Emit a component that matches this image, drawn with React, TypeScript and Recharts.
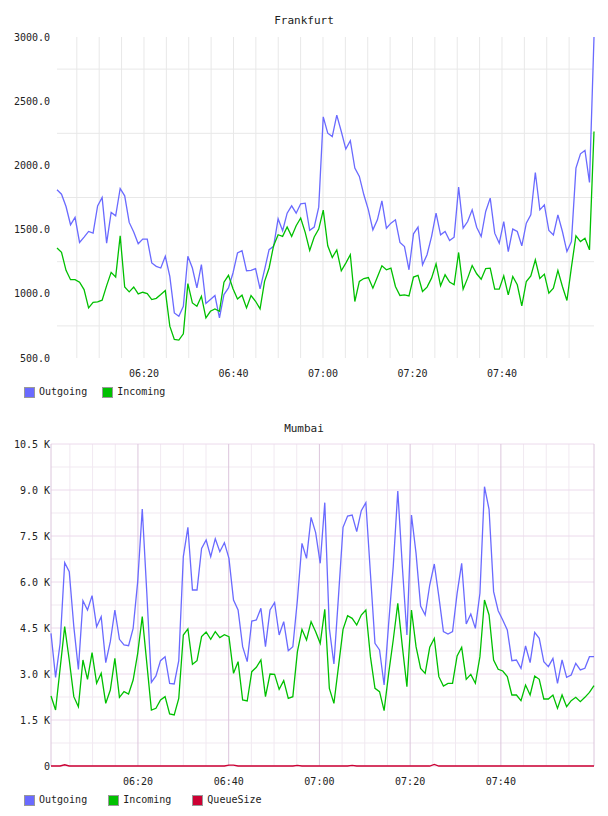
import React from 'react';
import { LineChart, Line, XAxis, YAxis, CartesianGrid } from 'recharts';

const FONT = '"DejaVu Sans Mono", "Liberation Mono", monospace';

const COLOR_OUT = '#6a6aff';
const COLOR_IN = '#00c000';
const COLOR_QUEUE = '#cc0033';

// x axis: minutes after 06:00
const TIME_TICKS = [20, 40, 60, 80, 100];
const FIVE_MIN_MARKS = [5, 10, 15, 20, 25, 30, 35, 40, 45, 50, 55, 60, 65, 70, 75, 80, 85, 90, 95, 100, 105, 110, 115];
const MINOR_MIN_MARKS = [5, 10, 15, 25, 30, 35, 45, 50, 55, 65, 70, 75, 85, 90, 95, 105, 110, 115];

// sampling (seconds after 06:00)
const FRA_START_SEC = 34;
const FRA_STEP_SEC = 60.5;
const MUM_START_SEC = 50;
const MUM_STEP_SEC = 60.35;

// Frankfurt
const FRA_Y_TICKS = [500, 1000, 1500, 2000, 2500, 3000];
const FRA_GRID_Y = [750, 1250, 1750, 2250, 2750];

const FRA_OUT = [
  1810, 1776, 1680, 1538, 1595, 1400, 1442, 1486, 1473, 1685,
  1750, 1395, 1634, 1608, 1820, 1763, 1556, 1481, 1390, 1426,
  1426, 1240, 1214, 1201, 1292, 1136, 851, 825, 903, 1292,
  1201, 1046, 1227, 924, 955, 986, 812, 994, 1046, 1162,
  1318, 1336, 1180, 1183, 1196, 1038, 1188, 1344, 1370, 1584,
  1491, 1628, 1685, 1628, 1701, 1706, 1494, 1520, 1675, 2378,
  2251, 2225, 2392, 2264, 2127, 2192, 1979, 1914, 1771, 1654,
  1498, 1576, 1724, 1511, 1550, 1576, 1400, 1368, 1187, 1467,
  1519, 1226, 1304, 1446, 1628, 1459, 1485, 1415, 1441, 1831,
  1511, 1563, 1654, 1519, 1446, 1641, 1745, 1472, 1394, 1563,
  1329, 1504, 1485, 1374, 1550, 1615, 1945, 1654, 1693, 1493,
  1459, 1615, 1485, 1329, 1407, 1979, 2090, 2116, 1867, 3000,
];

const FRA_IN = [
  1356, 1323, 1183, 1110, 1110, 1090, 1033, 890, 934, 937,
  950, 1064, 1167, 1131, 1452, 1053, 1015, 1053, 999, 1012,
  1002, 955, 965, 994, 1025, 748, 644, 639, 688, 1079,
  929, 903, 981, 812, 864, 882, 864, 1090, 1144, 1040,
  960, 989, 890, 986, 942, 882, 1097, 1201, 1375, 1460,
  1447, 1520, 1447, 1530, 1590, 1478, 1338, 1442, 1504, 1652,
  1374, 1283, 1342, 1179, 1239, 1304, 940, 1096, 1119, 1127,
  1044, 1130, 1218, 1187, 1200, 1057, 987, 992, 984, 1130,
  1143, 1018, 1052, 1122, 1233, 1062, 1148, 1091, 1070, 1322,
  1036, 1122, 1220, 1156, 1114, 1197, 1200, 1036, 1036, 1140,
  992, 1135, 1070, 906, 1096, 1140, 1265, 1119, 1153, 1005,
  1044, 1182, 1057, 948, 1208, 1452, 1407, 1433, 1342, 2264,
];

// Mumbai
const MUM_Y_TICKS = [0, 1500, 3000, 4500, 6000, 7500, 9000, 10500];
const MUM_MINOR_Y = [750, 2250, 3750, 5250, 6750, 8250, 9750];

const MUM_OUT = [
  4326, 2891, 4000, 6631, 6337, 4544, 3152, 5392, 5087, 5555,
  4544, 4870, 3370, 4055, 5087, 4131, 3946, 3924, 4489, 6011,
  8381, 5631, 2728, 2935, 3435, 3565, 2696, 2674, 3435, 6826,
  7783, 5739, 5739, 7098, 7370, 6826, 7413, 6989, 7283, 6772,
  5413, 5087, 3891, 3402, 4728, 4761, 5141, 3891, 5087, 5326,
  4272, 4707, 3761, 3891, 5413, 7261, 6772, 8109, 7609, 6609,
  8587, 4489, 3326, 5522, 7783, 8152, 8185, 7642, 8326, 8587,
  6283, 4000, 3783, 2641, 4652, 6500, 8968, 6500, 4272, 8185,
  6935, 5218, 4924, 5902, 6587, 5522, 4381, 4305, 4381, 5631,
  6609, 4631, 4957, 4489, 5631, 9109, 8370, 5685, 5065, 4761,
  4435, 3435, 3457, 3185, 3913, 3370, 4359, 4163, 3402, 3239,
  3511, 2696, 3457, 2891, 2967, 3348, 3131, 3185, 3565, 3565,
];

const MUM_IN = [
  2283, 1826, 3185, 4544, 3457, 2261, 1935, 3457, 2826, 3696,
  2696, 3022, 2044, 2478, 3511, 2239, 2424, 2348, 2804, 3674,
  4870, 3348, 1826, 1880, 2152, 2261, 1696, 1663, 2207, 4272,
  4468, 3315, 3435, 4218, 4370, 4131, 4381, 4185, 4283, 4218,
  3022, 3402, 2152, 2120, 3076, 3218, 3457, 2261, 3000, 2989,
  2500, 2783, 2207, 2261, 3728, 4457, 4109, 4707, 4381, 4000,
  5109, 2533, 2044, 3239, 4457, 4902, 4815, 4598, 4924, 5087,
  3565, 2533, 2424, 1804, 3022, 4109, 5305, 3891, 2587, 5087,
  3891, 3185, 3022, 3870, 4163, 2913, 2609, 2696, 2696, 3587,
  3870, 2826, 2989, 2696, 3565, 5413, 4924, 3457, 3152, 3098,
  2913, 2315, 2315, 2131, 2641, 2315, 2935, 2826, 2185, 2185,
  2315, 1880, 2315, 1935, 2131, 2239, 2098, 2239, 2402, 2620,
];

const MUM_QUEUE = [
  0, 0, 0, 40, 0, 0, 0, 0, 0, 0,
  0, 0, 0, 0, 0, 0, 0, 0, 0, 0,
  0, 0, 0, 0, 0, 0, 0, 0, 0, 0,
  0, 0, 0, 0, 0, 0, 0, 0, 0, 30,
  30, 0, 0, 0, 0, 0, 0, 0, 0, 0,
  0, 0, 0, 0, 20, 0, 0, 0, 0, 0,
  0, 0, 0, 0, 0, 0, 20, 0, 0, 0,
  0, 0, 0, 0, 0, 0, 0, 0, 0, 0,
  0, 0, 0, 0, 50, 0, 0, 0, 0, 0,
  0, 0, 0, 0, 0, 0, 0, 0, 0, 0,
  0, 0, 0, 0, 0, 0, 0, 0, 0, 0,
  0, 0, 0, 0, 0, 0, 0, 0, 0, 0,
];

const fraRows = FRA_OUT.map((v, i) => ({
  t: (FRA_START_SEC + i * FRA_STEP_SEC) / 60,
  Outgoing: v,
  Incoming: FRA_IN[i],
}));

const mumRows = MUM_OUT.map((v, i) => ({
  t: (MUM_START_SEC + i * MUM_STEP_SEC) / 60,
  Outgoing: v,
  Incoming: MUM_IN[i],
  QueueSize: MUM_QUEUE[i],
}));

const fmtTime = (m: number) => {
  const h = 6 + Math.floor(m / 60);
  const mm = Math.round(m % 60);
  return `${String(h).padStart(2, '0')}:${String(mm).padStart(2, '0')}`;
};

const fmtK = (v: number) => (v === 0 ? '0' : `${(v / 1000).toFixed(1)} K`);

const tickStyle = { fontSize: 10, fill: '#222', fontFamily: FONT };

type LegendItem = { name: string; color: string };

function Legend({ items, top, gap }: { items: LegendItem[]; top: number; gap: number }) {
  return (
    <div
      style={{
        position: 'absolute',
        left: 24,
        top,
        display: 'flex',
        alignItems: 'center',
        fontFamily: FONT,
        fontSize: 10,
        color: '#222',
        lineHeight: '12px',
      }}
    >
      {items.map((it) => (
        <div key={it.name} style={{ display: 'flex', alignItems: 'center', marginRight: gap }}>
          <span
            style={{
              display: 'inline-block',
              width: 9,
              height: 9,
              background: it.color,
              border: '1px solid #999',
              marginRight: 4,
            }}
          />
          <span>{it.name}</span>
        </div>
      ))}
    </div>
  );
}

function Title({ text, top }: { text: string; top: number }) {
  return (
    <div
      style={{
        position: 'absolute',
        left: 0,
        top,
        width: 608,
        textAlign: 'center',
        fontFamily: FONT,
        fontSize: 11,
        lineHeight: '14px',
        color: '#222',
      }}
    >
      {text}
    </div>
  );
}

export default function App() {
  const mumStart = mumRows[0].t;
  const mumEnd = mumRows[mumRows.length - 1].t;
  return (
    <div style={{ position: 'absolute', left: 0, top: 0, width: 608, height: 816, background: '#fff' }}>
      <Title text="Frankfurt" top={14} />
      <div style={{ position: 'absolute', left: 0, top: 0 }}>
        <LineChart width={608} height={380} data={fraRows} margin={{ top: 37, right: 14, bottom: 0, left: 0 }}>
          <CartesianGrid stroke="#e8e8e8" horizontalValues={FRA_GRID_Y} verticalValues={FIVE_MIN_MARKS} />
          <XAxis
            dataKey="t"
            type="number"
            domain={['dataMin', 'dataMax']}
            ticks={TIME_TICKS}
            tickFormatter={fmtTime}
            axisLine={false}
            tickLine={false}
            tickSize={6}
            tickMargin={6}
            height={22}
            interval={0}
            tick={tickStyle}
          />
          <YAxis
            domain={[500, 3000]}
            ticks={FRA_Y_TICKS}
            tickFormatter={(v: number) => v.toFixed(1)}
            axisLine={false}
            tickLine={false}
            tickSize={6}
            tickMargin={1}
            width={57}
            interval={0}
            tick={tickStyle}
          />
          <Line type="linear" dataKey="Outgoing" stroke={COLOR_OUT} strokeWidth={1.3} dot={false} isAnimationActive={false} />
          <Line type="linear" dataKey="Incoming" stroke={COLOR_IN} strokeWidth={1.3} dot={false} isAnimationActive={false} />
        </LineChart>
      </div>
      <Legend
        top={386}
        gap={15}
        items={[
          { name: 'Outgoing', color: COLOR_OUT },
          { name: 'Incoming', color: COLOR_IN },
        ]}
      />

      <Title text="Mumbai" top={422} />
      <div style={{ position: 'absolute', left: 0, top: 400 }}>
        <LineChart width={608} height={388} data={mumRows} margin={{ top: 44, right: 14, bottom: 0, left: 0 }}>
          <CartesianGrid stroke="#f1e9f1" horizontalValues={MUM_MINOR_Y} verticalValues={MINOR_MIN_MARKS} />
          <CartesianGrid stroke="#ecdaec" horizontalValues={MUM_Y_TICKS} vertical={false} />
          <CartesianGrid stroke="#dcc6dc" horizontal={false} verticalValues={[mumStart, ...TIME_TICKS, mumEnd]} />
          <XAxis
            dataKey="t"
            type="number"
            domain={['dataMin', 'dataMax']}
            ticks={TIME_TICKS}
            tickFormatter={fmtTime}
            axisLine={false}
            tickLine={false}
            tickSize={6}
            tickMargin={6}
            height={22}
            interval={0}
            tick={tickStyle}
          />
          <YAxis
            domain={[0, 10500]}
            ticks={MUM_Y_TICKS}
            tickFormatter={fmtK}
            axisLine={false}
            tickLine={false}
            tickSize={0}
            tickMargin={1}
            width={51}
            interval={0}
            tick={tickStyle}
          />
          <Line type="linear" dataKey="Outgoing" stroke={COLOR_OUT} strokeWidth={1.3} dot={false} isAnimationActive={false} />
          <Line type="linear" dataKey="Incoming" stroke={COLOR_IN} strokeWidth={1.3} dot={false} isAnimationActive={false} />
          <Line type="linear" dataKey="QueueSize" stroke={COLOR_QUEUE} strokeWidth={1.3} dot={false} isAnimationActive={false} />
        </LineChart>
      </div>
      <Legend
        top={794}
        gap={21}
        items={[
          { name: 'Outgoing', color: COLOR_OUT },
          { name: 'Incoming', color: COLOR_IN },
          { name: 'QueueSize', color: COLOR_QUEUE },
        ]}
      />
    </div>
  );
}
